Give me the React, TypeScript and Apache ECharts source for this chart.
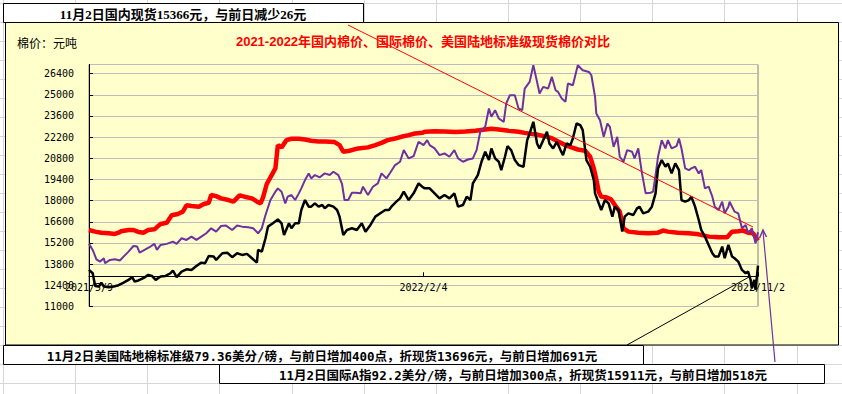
import React, { useEffect, useRef } from "react";
import * as echarts from "echarts";

// ---- axis tick labels ----
const xTickLabels = ["2021/5/9", "2022/2/4", "2022/11/2"];
const totalDays = 542; // 2021/5/9 -> 2022/11/2

// ---- texts ----
const titleText = "2021-2022年国内棉价、国际棉价、美国陆地标准级现货棉价对比";
const unitText = "棉价：元吨";
const topNote = "11月2日国内现货15366元，与前日减少26元";
const usNote = "11月2日美国陆地棉标准级79.36美分/磅，与前日增加400点，折现货13696元，与前日增加691元";
const indexNote = "11月2日国际A指92.2美分/磅，与前日增加300点，折现货15911元，与前日增加518元";

// ---- 国内现货 (red), day offset since 2021/5/9 ----
const redDays = [0, 5, 10, 16, 21, 24, 26, 32, 36, 40, 44, 48, 53, 58, 63, 67, 72, 76, 79, 83, 89, 93, 97, 99, 103, 107, 113, 117, 122, 126, 132, 137, 139, 141, 144, 148, 151, 153, 156, 160, 164, 170, 175, 180, 186, 191, 199, 203, 206, 211, 218, 226, 232, 237, 242, 248, 253, 259, 264, 270, 272, 280, 288, 297, 305, 313, 321, 326, 332, 340, 348, 353, 359, 364, 369, 375, 380, 386, 391, 396, 402, 406, 409, 411, 413, 415, 419, 423, 427, 430, 433, 437, 445, 453, 461, 465, 469, 477, 486, 494, 502, 510, 517, 521, 526, 530, 534, 538, 542];
const redValues = [16060, 15950, 15880, 15840, 15800, 15880, 15970, 16060, 16060, 15930, 15880, 16060, 16100, 16460, 16540, 17030, 17120, 17270, 17690, 17640, 17600, 17780, 17860, 18370, 18300, 18150, 18040, 17930, 18350, 18260, 18150, 17890, 17820, 18210, 19100, 19690, 20130, 21670, 21520, 22000, 22090, 22090, 22040, 21960, 21910, 21910, 21870, 21670, 21230, 21300, 21450, 21520, 21670, 21820, 22000, 22110, 22220, 22330, 22440, 22480, 22550, 22590, 22570, 22530, 22570, 22620, 22700, 22750, 22700, 22620, 22550, 22480, 22400, 22350, 22260, 22130, 21910, 21670, 21520, 21380, 21300, 20900, 20130, 19400, 18590, 18260, 18220, 18080, 17600, 17270, 16170, 15950, 15880, 15840, 15880, 16020, 15950, 15880, 15840, 15770, 15620, 15580, 15580, 15950, 15970, 16020, 15880, 15840, 15366];

// ---- 国际A指折现货 (purple) ----
const purpleDays = [0, 3, 6, 9, 12, 13, 17, 21, 25, 28, 32, 36, 39, 41, 45, 49, 53, 55, 58, 63, 68, 71, 75, 79, 83, 87, 91, 95, 99, 103, 107, 111, 116, 120, 124, 129, 133, 137, 140, 143, 147, 151, 153, 156, 159, 161, 164, 167, 170, 172, 175, 178, 180, 183, 187, 191, 195, 198, 202, 205, 207, 210, 213, 216, 220, 222, 226, 230, 234, 237, 241, 244, 248, 252, 255, 259, 263, 267, 271, 274, 276, 280, 284, 288, 292, 296, 299, 303, 307, 311, 314, 317, 321, 324, 326, 329, 332, 336, 338, 341, 345, 348, 351, 353, 357, 360, 363, 365, 368, 372, 375, 378, 380, 383, 386, 388, 392, 396, 400, 405, 407, 410, 411, 414, 417, 420, 422, 425, 428, 430, 433, 436, 440, 442, 445, 448, 451, 455, 457, 459, 461, 464, 467, 469, 472, 476, 478, 480, 483, 486, 488, 491, 494, 496, 499, 502, 505, 507, 510, 513, 515, 518, 519, 523, 526, 529, 532, 534, 537, 540, 542];
const purpleValues = [15140, 14740, 14120, 13970, 14190, 13860, 14080, 14120, 14040, 14300, 14630, 15000, 14960, 14560, 14740, 14920, 15140, 14740, 15070, 15140, 15290, 15140, 15510, 15400, 15620, 15400, 15620, 15840, 16170, 15950, 16320, 16350, 16060, 16350, 16280, 16240, 16170, 15840, 16170, 17050, 18040, 18590, 18810, 18590, 17820, 18260, 18370, 18040, 18480, 18810, 19360, 19800, 19470, 19690, 19540, 19800, 19690, 19910, 19690, 19100, 18040, 18040, 18520, 18520, 18480, 18920, 18370, 18920, 19140, 19800, 19470, 19840, 20350, 20570, 21340, 20790, 20940, 21890, 21670, 22000, 21670, 21450, 21010, 21120, 20900, 21340, 20790, 20570, 20720, 20790, 21340, 22550, 22880, 24090, 23540, 23980, 23430, 23210, 24420, 24970, 24970, 24090, 23980, 25410, 25850, 26950, 25850, 25080, 25520, 25410, 26180, 25300, 25190, 24750, 24530, 25740, 25630, 26950, 26620, 26510, 26290, 24860, 23760, 23320, 22220, 23100, 22880, 21560, 22220, 20900, 20570, 21340, 21230, 20790, 21450, 19800, 18480, 18520, 18590, 19690, 20900, 22000, 21450, 22000, 21450, 21600, 22110, 21450, 20130, 20020, 20130, 20240, 19800, 20020, 18810, 18920, 18260, 17600, 17380, 17930, 17160, 17600, 17930, 17270, 17160, 16170, 16390, 15840, 16170, 15180, 15911];

// ---- 美国陆地棉标准级折现货 (black) ----
const blackDays = [0, 3, 5, 8, 10, 12, 16, 20, 24, 28, 32, 35, 37, 40, 44, 48, 51, 54, 58, 62, 66, 68, 71, 75, 79, 83, 87, 91, 94, 97, 101, 103, 108, 112, 116, 120, 124, 128, 132, 136, 137, 140, 143, 145, 149, 153, 156, 158, 162, 164, 167, 170, 172, 175, 178, 180, 183, 186, 189, 191, 194, 198, 201, 203, 206, 209, 213, 217, 221, 224, 228, 232, 236, 240, 243, 245, 249, 252, 255, 259, 263, 267, 270, 272, 276, 280, 284, 288, 292, 296, 299, 303, 306, 309, 311, 315, 318, 321, 324, 326, 329, 332, 334, 337, 339, 342, 345, 348, 352, 355, 357, 360, 363, 365, 368, 371, 373, 376, 379, 382, 384, 387, 390, 392, 395, 398, 400, 403, 406, 409, 410, 413, 415, 418, 421, 424, 426, 429, 432, 434, 437, 441, 444, 446, 449, 453, 456, 459, 461, 464, 467, 469, 472, 475, 478, 480, 483, 486, 488, 491, 494, 496, 499, 502, 505, 507, 510, 513, 515, 518, 521, 523, 526, 529, 532, 534, 536, 537, 539, 540, 542];
const blackValues = [13420, 13200, 12360, 12320, 12580, 12320, 12280, 12320, 12410, 12580, 12760, 12940, 12650, 12720, 12870, 13090, 13020, 12760, 12980, 13020, 13200, 13380, 12940, 13310, 13460, 13420, 13680, 13900, 13860, 14340, 14300, 14080, 14520, 14560, 14260, 14520, 14410, 14480, 14190, 13900, 14740, 14630, 15510, 16280, 16500, 16760, 16500, 15730, 16500, 16170, 16500, 16500, 17380, 18040, 17600, 17600, 17820, 17600, 17710, 17490, 17710, 17600, 17380, 16940, 15730, 16060, 16170, 16060, 16500, 15950, 16390, 16940, 17160, 17380, 17380, 17600, 17930, 18150, 18590, 18040, 18480, 19140, 18920, 18810, 18810, 18480, 18150, 18370, 18150, 18480, 17600, 17710, 18260, 18040, 19140, 19690, 20570, 21230, 20680, 21450, 20790, 20570, 20020, 20900, 21600, 21340, 20680, 20350, 20240, 22000, 22440, 23210, 21780, 21450, 22000, 22550, 21780, 21450, 21890, 21340, 21010, 21780, 21670, 22110, 23100, 22990, 22660, 20680, 20240, 19360, 18480, 17820, 17380, 18040, 17820, 16940, 17600, 17380, 15950, 16940, 17160, 17050, 17490, 17600, 17160, 17270, 17600, 18480, 20130, 20680, 20240, 20460, 19800, 20460, 20020, 18040, 17930, 18040, 18260, 17600, 16720, 16060, 15620, 15070, 14520, 14300, 14300, 14960, 14190, 15070, 14300, 14190, 13970, 13420, 13200, 13310, 12760, 12210, 12760, 12100, 13696];

// spreadsheet cell lines (decoration)
const cellCols = [3, 75, 147, 219, 292, 364, 436, 508, 580, 652, 724, 797];
const cellRows = [3, 22, 41, 60, 79, 98, 117, 136, 155, 174, 193, 212, 231, 250, 269, 288, 307, 326, 345, 364, 383];

const zip = (d: number[], v: number[]) => d.map((x, i) => [x, v[i]]);

export default function App() {
  const ref = useRef<HTMLDivElement>(null);
  useEffect(() => {
    const chart = echarts.init(ref.current!, null, { renderer: "svg" });
    const gridStroke = "#d6d6d6";
    const cells: any[] = [];
    cellCols.forEach((x) =>
      cells.push({ type: "line", silent: true, z: -30, shape: { x1: x + 0.5, y1: 0, x2: x + 0.5, y2: 394 }, style: { stroke: gridStroke, lineWidth: 1 } })
    );
    cellRows.forEach((y) =>
      cells.push({ type: "line", silent: true, z: -30, shape: { x1: 0, y1: y + 0.5, x2: 842, y2: y + 0.5 }, style: { stroke: gridStroke, lineWidth: 1 } })
    );
    const noteFont = '"DejaVu Sans Mono", "Noto Sans CJK SC"';
    const purple = "#7030A0";
    chart.setOption({
      animation: false,
      backgroundColor: "transparent",
      grid: { left: 89, top: 64.5, width: 669, height: 242, show: true, borderColor: "#808080", borderWidth: 1, backgroundColor: "transparent" },
      xAxis: {
        type: "value",
        min: 0,
        max: totalDays,
        interval: totalDays / 2,
        offset: -30.25,
        axisLine: { show: true, lineStyle: { color: "#000", width: 1 } },
        axisTick: { show: true, inside: true, length: 4, lineStyle: { color: "#000" } },
        axisLabel: {
          margin: 6,
          color: "#000",
          fontSize: 10,
          fontFamily: "DejaVu Sans Mono",
          formatter: (v: number) => xTickLabels[Math.round(v / (totalDays / 2))] ?? "",
        },
        splitLine: { show: false },
      },
      yAxis: {
        type: "value",
        min: 11000,
        max: 27000,
        interval: 1400,
        axisLine: { show: true, lineStyle: { color: "#000", width: 1 } },
        axisTick: { show: true, inside: true, length: 4, lineStyle: { color: "#000" } },
        axisLabel: { showMaxLabel: false, margin: 15, color: "#000", fontSize: 10, fontFamily: "DejaVu Sans Mono", formatter: (v: number) => String(v) },
        splitLine: { show: true, lineStyle: { color: "#bdbdbd", width: 1 } },
      },
      series: [
        { name: "国内现货", type: "line", data: zip(redDays, redValues), symbol: "none", lineStyle: { color: "#ff0000", width: 4.5 }, itemStyle: { color: "#ff0000" }, z: 2 },
        { name: "国际A指折现货", type: "line", data: zip(purpleDays, purpleValues), symbol: "none", lineStyle: { color: purple, width: 2 }, itemStyle: { color: purple }, z: 3 },
        { name: "美国陆地棉折现货", type: "line", data: zip(blackDays, blackValues), symbol: "none", lineStyle: { color: "#000", width: 2.5 }, itemStyle: { color: "#000" }, z: 4 },
      ],
      graphic: [
        ...cells,
        { type: "rect", silent: true, z: -20, shape: { x: 5.5, y: 22.5, width: 833, height: 322.5 }, style: { fill: "#FFFFCC", stroke: "#000", lineWidth: 1 } },
        { type: "rect", silent: true, z: -20, shape: { x: 3.5, y: 3.5, width: 360, height: 19 }, style: { fill: "#fff", stroke: "#000", lineWidth: 1 } },
        { type: "rect", silent: true, z: -20, shape: { x: 3.5, y: 345.5, width: 640, height: 19 }, style: { fill: "#fff", stroke: "#000", lineWidth: 1 } },
        { type: "rect", silent: true, z: -20, shape: { x: 219.5, y: 364.5, width: 605, height: 19 }, style: { fill: "#fff", stroke: "#000", lineWidth: 1 } },
        { type: "text", silent: true, z: 50, x: 183, y: 14, style: { text: topNote, align: "center", verticalAlign: "middle", fill: "#000", fontSize: 13, fontWeight: "bold", fontFamily: '"Liberation Serif", "Noto Sans CJK SC"' } },
        { type: "text", silent: true, z: 50, x: 423, y: 41, style: { text: titleText, align: "center", verticalAlign: "middle", fill: "#ff0000", fontSize: 13, fontWeight: "bold", fontFamily: '"Liberation Sans", "Noto Sans CJK SC"' } },
        { type: "text", silent: true, z: 50, x: 17, y: 42, style: { text: unitText, align: "left", verticalAlign: "middle", fill: "#000", fontSize: 12, fontFamily: '"Noto Sans CJK SC"' } },
        { type: "text", silent: true, z: 50, x: 322, y: 356, style: { text: usNote, align: "center", verticalAlign: "middle", fill: "#000", fontSize: 12.5, fontWeight: "bold", fontFamily: noteFont } },
        { type: "text", silent: true, z: 50, x: 523, y: 375, style: { text: indexNote, align: "center", verticalAlign: "middle", fill: "#000", fontSize: 12.5, fontWeight: "bold", fontFamily: noteFont } },
        // annotation connector lines
        { type: "line", silent: true, z: 100, shape: { x1: 348, y1: 25, x2: 753, y2: 227 }, style: { stroke: "#ff0000", lineWidth: 1 } },
        { type: "line", silent: true, z: 100, shape: { x1: 627, y1: 345, x2: 749, y2: 277 }, style: { stroke: "#000", lineWidth: 1 } },
        { type: "line", silent: true, z: 100, shape: { x1: 775, y1: 362, x2: 763, y2: 231 }, style: { stroke: purple, lineWidth: 1.2 } },
        { type: "polyline", silent: true, z: 100, shape: { points: [[759.5, 238], [763, 230], [766.5, 237]] }, style: { stroke: purple, lineWidth: 1.5, fill: "none" } },
      ],
    });
    return () => chart.dispose();
  }, []);
  return <div ref={ref} style={{ position: "fixed", left: 0, top: 0, width: 842, height: 394, background: "#fff" }} />;
}
